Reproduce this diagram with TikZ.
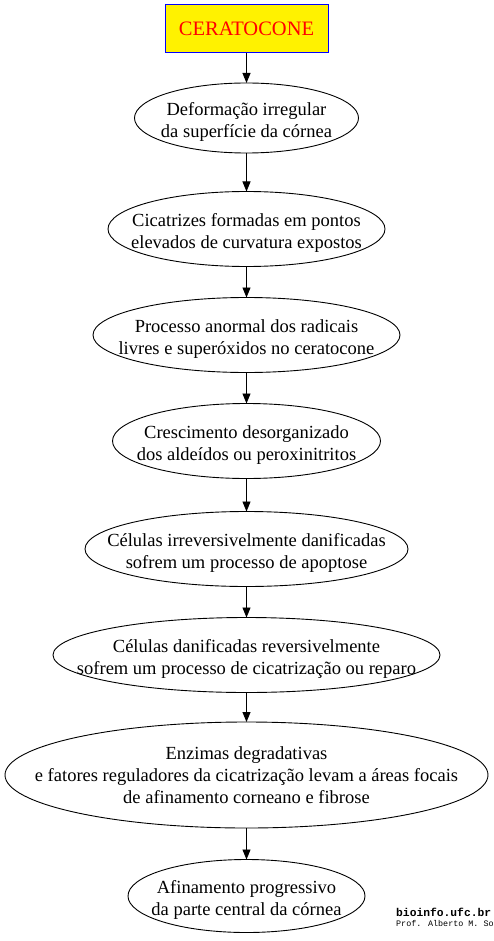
\documentclass[tikz,border=0pt]{standalone}
\usepackage{fontspec}
\setmainfont{Liberation Serif}
\newfontfamily\monofont{Liberation Mono}
\usetikzlibrary{arrows.meta,shapes.geometric}
\begin{document}
\begin{tikzpicture}[x=1pt,y=-1pt,
  ell/.style={draw=black, line width=0.9pt, ellipse, inner sep=0pt, outer sep=0pt},
  lbl/.style={inner sep=0pt, align=center, font=\fontsize{18.5}{22}\selectfont},
  lbltwo/.style={lbl, yshift=-4pt},
  titlebox/.style={draw=blue, line width=1pt, fill=yellow, text=red, inner sep=0pt,
    minimum width=163pt, minimum height=48pt, font=\fontsize{20.5}{24}\selectfont},
  conn/.style={draw=black, line width=0.9pt, -{Triangle[length=10pt,width=8pt]}}]
\useasboundingbox (0,0) rectangle (493,941);
\clip (0,0) rectangle (493,941);
\fill[white] (0,0) rectangle (493,941);
\node[titlebox] (t) at (246.5,29) {CERATOCONE};
\node[ell, minimum width=224pt, minimum height=70pt] (n1) at (246.5,118) {};
\node[lbltwo] (n1t) at (n1) {Deformação irregular\\da superfície da córnea};
\node[ell, minimum width=277pt, minimum height=75pt] (n2) at (246.5,229) {};
\node[lbltwo] (n2t) at (n2) {Cicatrizes formadas em pontos\\elevados de curvatura expostos};
\node[ell, minimum width=307pt, minimum height=75pt] (n3) at (246.5,335) {};
\node[lbltwo] (n3t) at (n3) {Processo anormal dos radicais\\livres e superóxidos no ceratocone};
\node[ell, minimum width=268pt, minimum height=75pt] (n4) at (246.5,441) {};
\node[lbltwo] (n4t) at (n4) {Crescimento desorganizado\\dos aldeídos ou peroxinitritos};
\node[ell, minimum width=323pt, minimum height=75pt] (n5) at (246.5,549) {};
\node[lbltwo] (n5t) at (n5) {Células irreversivelmente danificadas\\sofrem um processo de apoptose};
\node[ell, minimum width=387pt, minimum height=75pt] (n6) at (246.5,655) {};
\node[lbltwo] (n6t) at (n6) {Células danificadas reversivelmente\\sofrem um processo de cicatrização ou reparo};
\node[ell, minimum width=483pt, minimum height=106pt] (n7) at (246.5,775) {};
\node[lbl] (n7t) at (n7) {Enzimas degradativas\\e fatores reguladores da cicatrização levam a áreas focais\\de afinamento corneano e fibrose};
\node[ell, minimum width=237pt, minimum height=73pt] (n8) at (246.5,896) {};
\node[lbltwo] (n8t) at (n8) {Afinamento progressivo\\da parte central da córnea};
\draw[conn] (t.south) -- (n1.north);
\draw[conn] (n1.south) -- (n2.north);
\draw[conn] (n2.south) -- (n3.north);
\draw[conn] (n3.south) -- (n4.north);
\draw[conn] (n4.south) -- (n5.north);
\draw[conn] (n5.south) -- (n6.north);
\draw[conn] (n6.south) -- (n7.north);
\draw[conn] (n7.south) -- (n8.north);
\node[anchor=base west, inner sep=0pt, font=\monofont\bfseries\fontsize{11.3}{13}\selectfont] (w1) at (396,916) {bioinfo.ufc.br};
\node[anchor=base west, inner sep=0pt, font=\monofont\fontsize{8.4}{10}\selectfont] (w2) at (396,926) {Prof. Alberto M. So};
\end{tikzpicture}
\end{document}
